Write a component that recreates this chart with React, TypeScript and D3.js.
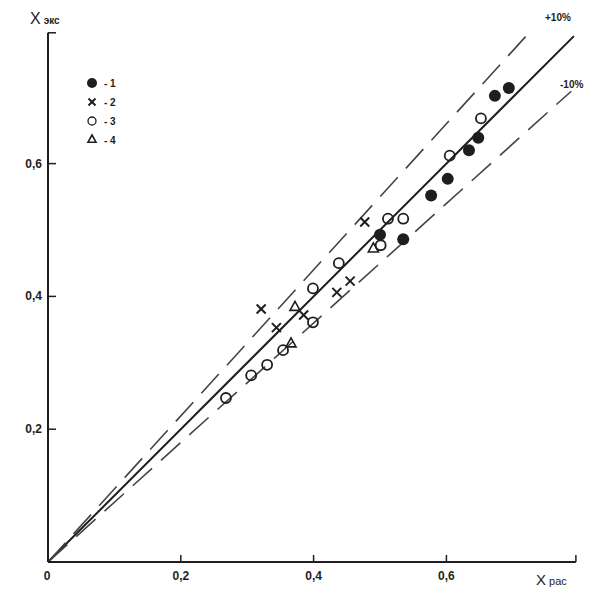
import React from "react";
import * as d3 from "d3";

const xTicks = [0.2, 0.4, 0.6];
const yTicks = [0.2, 0.4, 0.6];
const tickLabels = ["0,2", "0,4", "0,6"];

// series 1: filled circles
const s1x = [0.535, 0.500, 0.577, 0.602, 0.634, 0.648, 0.673, 0.694];
const s1y = [0.486, 0.493, 0.552, 0.577, 0.620, 0.639, 0.702, 0.714];
// series 2: crosses
const s2x = [0.321, 0.344, 0.385, 0.435, 0.455, 0.477];
const s2y = [0.381, 0.353, 0.372, 0.406, 0.423, 0.512];
// series 3: open circles
const s3x = [0.268, 0.306, 0.330, 0.354, 0.399, 0.399, 0.438, 0.501, 0.512, 0.535, 0.605, 0.652];
const s3y = [0.247, 0.281, 0.297, 0.319, 0.361, 0.412, 0.450, 0.477, 0.517, 0.517, 0.612, 0.668];
// series 4: triangles
const s4x = [0.372, 0.366, 0.490];
const s4y = [0.385, 0.330, 0.473];

const legendLabels = ["- 1", "- 2", "- 3", "- 4"];

const W = 592, H = 593;
const ox = 48, oy = 562, k = 664;
const x = d3.scaleLinear().domain([0, 1]).range([ox, ox + k]);
const y = d3.scaleLinear().domain([0, 1]).range([oy, oy - k]);
const C = "#1e1e1e";

function Cross({ cx, cy, s = 4.5 }: { cx: number; cy: number; s?: number }) {
  return (
    <g stroke={C} strokeWidth={2}>
      <line x1={cx - s} y1={cy - s} x2={cx + s} y2={cy + s} />
      <line x1={cx - s} y1={cy + s} x2={cx + s} y2={cy - s} />
    </g>
  );
}
function Tri({ cx, cy, s = 5 }: { cx: number; cy: number; s?: number }) {
  const p = `${cx},${cy - s} ${cx - s},${cy + s * 0.8} ${cx + s},${cy + s * 0.8}`;
  return <polygon points={p} fill="none" stroke={C} strokeWidth={1.6} />;
}

export default function App() {
  const line = d3.line<[number, number]>().x(d => x(d[0])).y(d => y(d[1]));
  const font = "Liberation Sans, Arial, sans-serif";
  return (
    <svg width={W} height={H} style={{ position: "absolute", left: 0, top: 0, background: "#fff" }}>
      {/* reference lines */}
      <path d={line([[0, 0], [0.792, 0.792]])!} stroke={C} strokeWidth={2} fill="none" />
      <path d={line([[0, 0], [0.73, 0.803]])!} stroke="#444" strokeWidth={1.6} fill="none" strokeDasharray="26,12" />
      <path d={line([[0, 0], [0.788, 0.709]])!} stroke="#444" strokeWidth={1.6} fill="none" strokeDasharray="26,12" />
      <text x={545} y={21} fontFamily={font} fontSize={10} fill={C} fontWeight="bold">+10%</text>
      <text x={560} y={88} fontFamily={font} fontSize={10} fill={C} fontWeight="bold">-10%</text>

      {/* axes */}
      <line x1={ox} y1={oy} x2={x(0.795)} y2={oy} stroke={C} strokeWidth={2} />
      <line x1={x(0.795)} y1={oy} x2={x(0.795)} y2={oy - 7} stroke={C} strokeWidth={1.5} />
      <line x1={ox} y1={oy} x2={ox} y2={y(0.797)} stroke={C} strokeWidth={2} />
      <line x1={ox} y1={y(0.797)} x2={ox + 8} y2={y(0.797)} stroke={C} strokeWidth={1.5} />
      {xTicks.map((t, i) => (
        <g key={"xt" + i}>
          <line x1={x(t)} y1={oy} x2={x(t)} y2={oy - 7} stroke={C} strokeWidth={1.5} />
          <text x={x(t)} y={oy + 18} textAnchor="middle" fontFamily={font} fontSize={12} fontWeight="bold" fill={C}>{tickLabels[i]}</text>
        </g>
      ))}
      {yTicks.map((t, i) => (
        <g key={"yt" + i}>
          <line x1={ox} y1={y(t)} x2={ox + 8} y2={y(t)} stroke={C} strokeWidth={1.5} />
          <text x={ox - 6} y={y(t) + 4} textAnchor="end" fontFamily={font} fontSize={12} fontWeight="bold" fill={C}>{tickLabels[i]}</text>
        </g>
      ))}
      <text x={ox - 1} y={oy + 18} textAnchor="middle" fontFamily={font} fontSize={12} fontWeight="bold" fill={C}>0</text>
      <text x={30} y={24} fontFamily={font} fontSize={16} fill={C}>X<tspan fontSize={10} dx={3} fontWeight="bold">экс</tspan></text>
      <text x={536} y={585} fontFamily={font} fontSize={15} fill={C}>X<tspan fontSize={11} dx={3}>рас</tspan></text>

      {/* data */}
      {s3x.map((v, i) => (
        <circle key={"s3" + i} cx={x(v)} cy={y(s3y[i])} r={5} fill="none" stroke={C} strokeWidth={1.8} />
      ))}
      {s4x.map((v, i) => <Tri key={"s4" + i} cx={x(v)} cy={y(s4y[i])} />)}
      {s2x.map((v, i) => <Cross key={"s2" + i} cx={x(v)} cy={y(s2y[i])} />)}
      {s1x.map((v, i) => (
        <circle key={"s1" + i} cx={x(v)} cy={y(s1y[i])} r={6} fill={C} />
      ))}

      {/* legend */}
      <g fontFamily={font} fontSize={10} fontWeight="bold" fill={C}>
        <circle cx={92} cy={83} r={5} fill={C} />
        <Cross cx={92} cy={102} s={3.5} />
        <circle cx={92} cy={121} r={4} fill="none" stroke={C} strokeWidth={1.3} />
        <Tri cx={92} cy={139} s={4} />
        {legendLabels.map((l, i) => (
          <text key={"lg" + i} x={104} y={87 + i * 19}>{l}</text>
        ))}
      </g>
    </svg>
  );
}
